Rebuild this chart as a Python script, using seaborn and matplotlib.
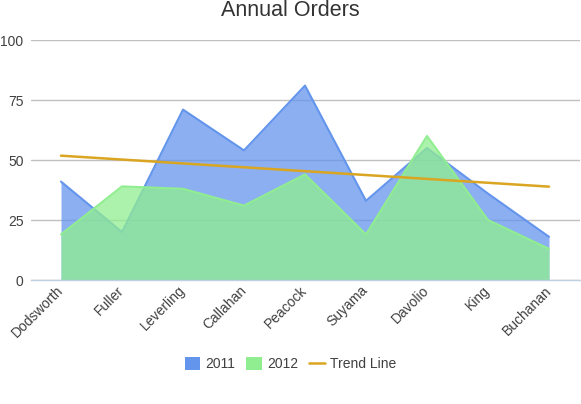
import numpy as np
import pandas as pd
import matplotlib
matplotlib.use('Agg')
import matplotlib.pyplot as plt
import seaborn as sns
from matplotlib.patches import Patch
from matplotlib.lines import Line2D

# data
names = ['Dodsworth', 'Fuller', 'Leverling', 'Callahan', 'Peacock',
         'Suyama', 'Davolio', 'King', 'Buchanan']
orders_2011 = [41, 20, 71, 54, 81, 33, 55, 36, 18]
orders_2012 = [19, 39, 38, 31, 44, 19, 60, 25, 13]
trend_names = ['Dodsworth', 'Buchanan']
trend_values = [51.8, 38.9]
y_ticks = [0, 25, 50, 75, 100]

df = pd.DataFrame({'name': names, 'y2011': orders_2011, 'y2012': orders_2012})
df['pos'] = np.arange(len(names))
trend = pd.DataFrame({'pos': [names.index(n) for n in trend_names], 'value': trend_values})

sns.set_style('white')
plt.rcParams['font.family'] = ['Liberation Sans', 'DejaVu Sans']

blue = '#6495ED'
green = '#90EE90'
gold = '#DAA520'
text_col = '#404040'

fig = plt.figure(figsize=(5.81, 4.04), dpi=100)
ax = fig.add_axes([30.5 / 581, 124 / 404, 549 / 581, 240 / 404])

ax.fill_between(df['pos'], df['y2011'], color=blue, alpha=0.75, linewidth=0, zorder=2)
sns.lineplot(data=df, x='pos', y='y2011', color=blue, linewidth=1.5, ax=ax, zorder=3)
ax.fill_between(df['pos'], df['y2012'], color=green, alpha=0.75, linewidth=0, zorder=4)
sns.lineplot(data=df, x='pos', y='y2012', color=green, linewidth=1.5, ax=ax, zorder=5)
sns.lineplot(data=trend, x='pos', y='value', color=gold, linewidth=1.8, ax=ax, zorder=6)

ax.set_xlim(-0.5, len(names) - 0.5)
ax.set_ylim(0, 100)
ax.set_yticks(y_ticks)
ax.set_yticklabels([str(t) for t in y_ticks], fontsize=10, color=text_col)
ax.yaxis.grid(True, color='#c0c0c0', linewidth=1)
ax.set_axisbelow(True)

ax.set_xticks(df['pos'])
ax.set_xticklabels(names, rotation=45, ha='right', va='center', rotation_mode='anchor',
                   fontsize=10, color=text_col)
ax.set_xticks(np.arange(len(names) + 1) - 0.5, minor=True)
ax.tick_params(axis='x', which='major', length=0, pad=6)
ax.tick_params(axis='x', which='minor', length=5, color='#c0d0e0', width=1)
ax.tick_params(axis='y', length=0, pad=5)
ax.set_xlabel('')
ax.set_ylabel('')

for s in ['top', 'right', 'left']:
    ax.spines[s].set_visible(False)
ax.spines['bottom'].set_color('#c0d0e0')
ax.spines['bottom'].set_linewidth(1)
ax.spines['bottom'].set_zorder(7)

fig.text(0.5, 1 - 10 / 404, 'Annual Orders', ha='center', va='center',
         fontsize=15.5, color='#333333')

handles = [Patch(facecolor=blue, edgecolor='none'),
           Patch(facecolor=green, edgecolor='none'),
           Line2D([0], [0], color=gold, linewidth=1.8)]
fig.legend(handles, ['2011', '2012', 'Trend Line'], loc='center',
           bbox_to_anchor=(0.5, 1 - 364 / 404), ncol=3, frameon=False,
           fontsize=10, labelcolor=text_col, handlelength=1.1, handleheight=1.1,
           handletextpad=0.4, columnspacing=0.8)

fig.savefig('out.png', dpi=100)
